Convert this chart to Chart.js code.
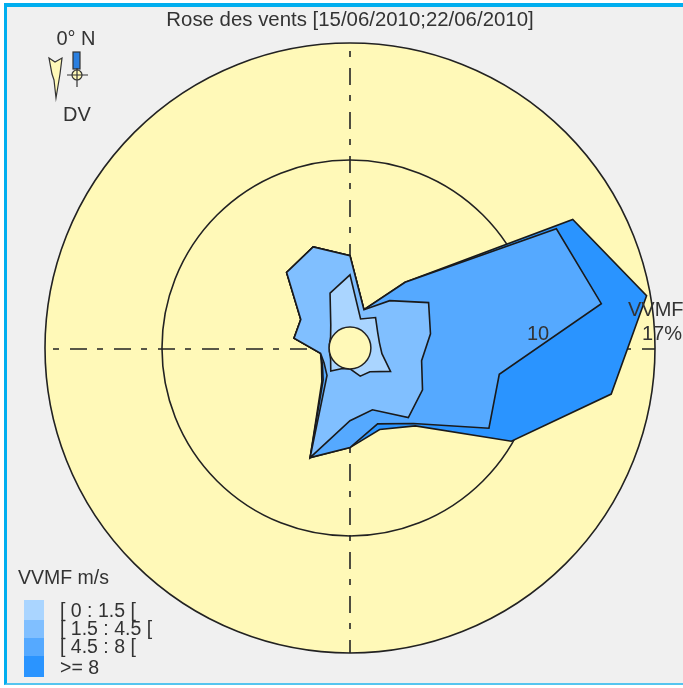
<!DOCTYPE html>
<html><head><meta charset="utf-8">
<style>
html,body{margin:0;padding:0;background:#fff;width:683px;height:688px;overflow:hidden}
#frame{position:absolute;left:4px;top:3px;width:679px;height:682px;background:#f0f0f0;border-left:3px solid #00aeef;border-top:4px solid #00aeef;border-bottom:2px solid #55c5ef;box-sizing:border-box}
canvas{position:absolute;left:0;top:0}
</style>
<script src="https://cdn.jsdelivr.net/npm/chart.js@4/dist/chart.umd.min.js"></script>
</head><body>
<div id="frame"></div>
<canvas id="c" width="683" height="688"></canvas>
<script>
const directions = ['0','20','40','60','80','100','120','140','160','180','200','220','240','260','280','300','320','340'];
const speedClass1 = [3.13,0.60,1.13,0.66,0.54,0.69,1.55,0.60,0.54,0,0.06,0.54,0.09,0,0,0.09,0.54,2.24];
const speedClass2 = [4.27,1.19,2.45,4.18,3.64,3.10,3.76,4.18,2.68,3.10,5.73,0.89,0.54,0.54,2.15,2.15,4.65,5.19];
const speedClass3 = [4.27,1.19,3.88,13.01,14.02,7.82,8.35,4.65,3.58,4.71,5.73,1.25,0.66,0.54,2.15,2.15,4.65,5.19];
const speedClass4 = [4.27,1.19,3.88,14.14,16.77,14.62,9.90,4.83,3.94,4.71,5.73,1.37,0.72,0.54,2.15,2.15,4.65,5.19];
const classLabels = ['[ 0 : 1.5 [','[ 1.5 : 4.5 [','[ 4.5 : 8 [','>= 8'];
const classColors = ['#aad5ff','#80bfff','#55a9ff','#2a94ff'];
const radialTicks = [-1.25,10,17];
const FONT = '"Liberation Sans", Arial, sans-serif';
const INK = '#222';

const decor = {
  id:'decor',
  beforeDatasetsDraw(chart){
    const s = chart.scales.r, c = chart.ctx;
    const R = s.getDistanceFromCenterForValue(17);
    c.save();
    c.beginPath(); c.arc(s.xCenter,s.yCenter,R,0,Math.PI*2); c.clip();
    c.strokeStyle = INK; c.lineWidth = 1.6; c.setLineDash([6,11,17,10]);
    c.beginPath(); c.moveTo(53,349); c.lineTo(s.xCenter+R,349); c.stroke();
    c.beginPath(); c.moveTo(s.xCenter,51); c.lineTo(s.xCenter,s.yCenter+R); c.stroke();
    c.restore();
  },
  afterDatasetsDraw(chart){
    const s = chart.scales.r, c = chart.ctx;
    c.save();
    // central hole
    c.beginPath(); c.arc(s.xCenter,s.yCenter,s.getDistanceFromCenterForValue(0),0,Math.PI*2);
    c.fillStyle='#fff9b8'; c.fill(); c.strokeStyle=INK; c.lineWidth=1.5; c.stroke();
    // radial labels
    c.fillStyle='#333'; c.font='20px '+FONT; c.textBaseline='middle'; c.textAlign='center';
    c.fillText('10', s.xCenter+s.getDistanceFromCenterForValue(10), 334);
    c.fillText('17%', 662, 334);
    // direction key
    c.fillText('0° N', 76, 39);
    c.fillText('DV', 77, 115);
    c.textAlign='left';
    c.fillText('VVMF', 628, 310);
    c.textAlign='center';
    c.fillStyle='#fff9b8'; c.strokeStyle='#333'; c.lineWidth=1.2;
    c.beginPath();
    c.moveTo(49,58);c.lineTo(55,62);c.lineTo(62,58);c.lineTo(60,74);c.lineTo(59,80);c.lineTo(56,98);c.lineTo(54,80);c.lineTo(52,74);c.closePath();
    c.fill();c.stroke();
    c.fillStyle='#2a7fe0'; c.fillRect(73,52,7,17); c.strokeRect(73,52,7,17);
    c.beginPath();c.arc(77,75,5,0,Math.PI*2);c.fillStyle='#fff9b8';c.fill();c.stroke();
    c.beginPath();c.moveTo(67,75);c.lineTo(88,75);c.moveTo(77,68);c.lineTo(77,87);c.stroke();
    // speed legend
    c.font='19.5px '+FONT;
    c.fillStyle='#333'; c.textAlign='left';
    c.fillText('VVMF m/s', 18, 579);
    const ys=[600,620,638,656,677], ty=[612,630,648,669];
    classLabels.forEach((l,i)=>{
      c.fillStyle=classColors[i]; c.fillRect(24,ys[i],20,ys[i+1]-ys[i]);
      c.fillStyle='#333'; c.fillText(l,60,ty[i]);
    });
    c.restore();
  }
};

const series = [speedClass1,speedClass2,speedClass3,speedClass4];
new Chart(document.getElementById('c'),{
  type:'radar',
  plugins:[decor],
  data:{labels:directions,datasets:series.map((d,i)=>({
    label:classLabels[i],data:d,backgroundColor:classColors[i],borderColor:'#1a1a1a',
    borderWidth:1.6,fill:true,tension:0,pointRadius:0
  }))},
  options:{
    responsive:false,animation:false,
    layout:{padding:{left:44,right:27,top:8,bottom:34}},
    plugins:{
      legend:{display:false},tooltip:{enabled:false},
      title:{display:true,text:'Rose des vents [15/06/2010;22/06/2010]',color:'#333',
        font:{family:FONT,size:20.4,weight:'normal'},padding:{top:0,bottom:11}}
    },
    scales:{r:{
      min:-1.25,max:17,
      backgroundColor:'#fff9b8',
      afterBuildTicks(a){a.ticks=radialTicks.map(v=>({value:v}));},
      ticks:{display:false},
      pointLabels:{display:false},
      angleLines:{display:false},
      grid:{circular:true,color:INK,lineWidth:1.6}
    }}
  }
});
</script>
</body></html>
